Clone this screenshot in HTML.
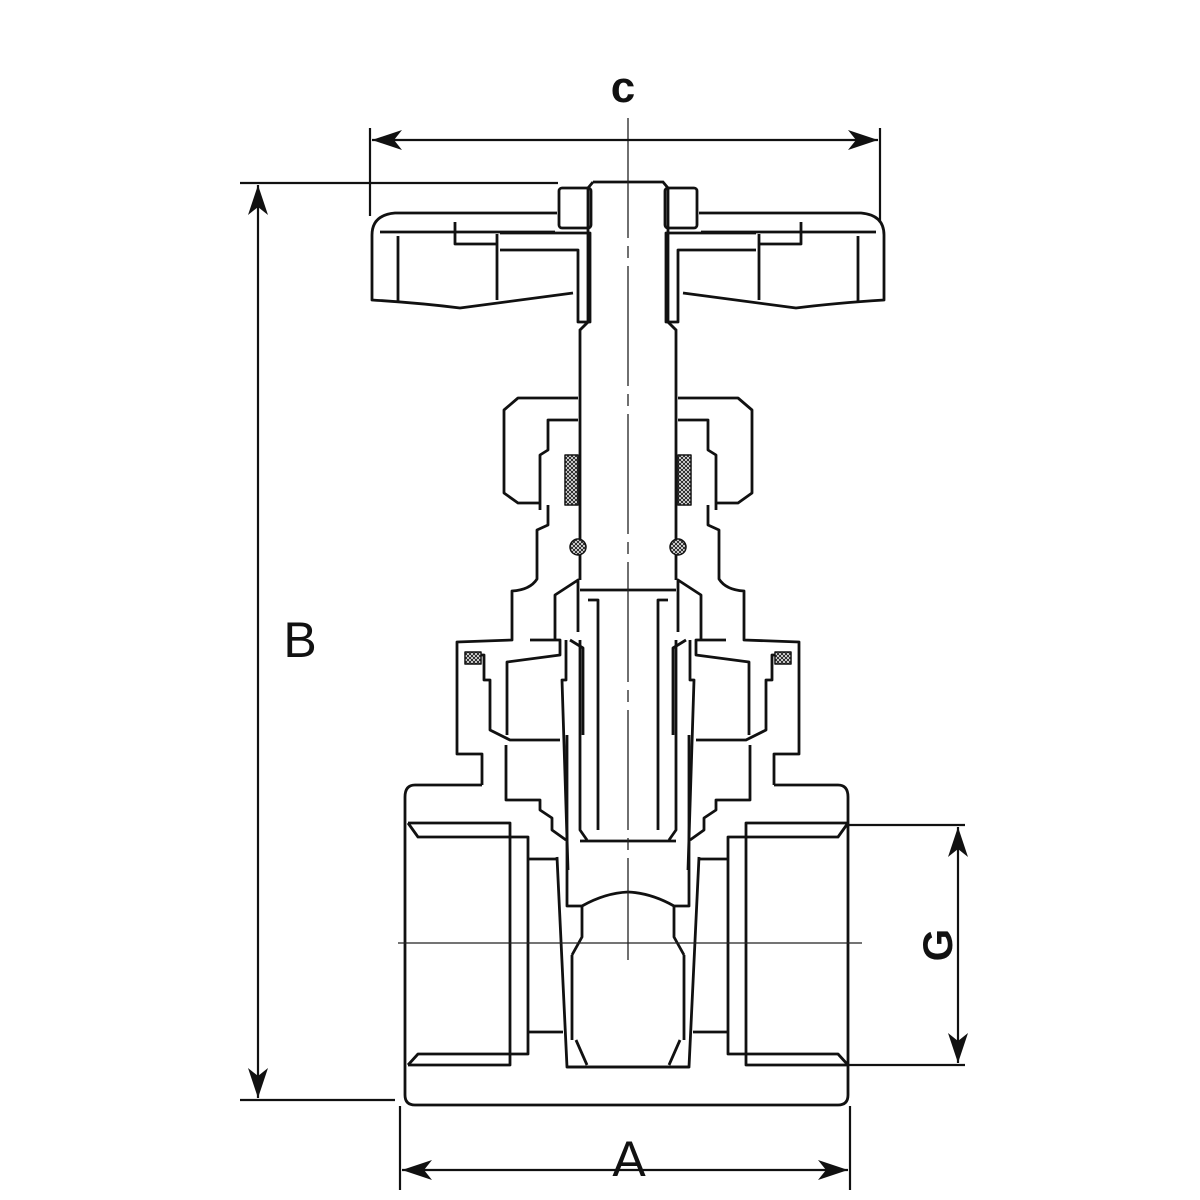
<!DOCTYPE html>
<html><head><style>html,body{margin:0;padding:0;background:#fff}svg{display:block}</style></head><body>
<svg width="1200" height="1200" viewBox="0 0 1200 1200" xmlns="http://www.w3.org/2000/svg">
<defs>
<marker id="ar" viewBox="0 0 30 20" refX="30" refY="10" markerWidth="30" markerHeight="20" markerUnits="userSpaceOnUse" orient="auto-start-reverse"><path d="M0,0 L30,10 L0,20 L8,10 z" fill="#111"/></marker>
<pattern id="hatch" width="4" height="4" patternUnits="userSpaceOnUse"><rect width="4" height="4" fill="#fff"/><path d="M0,0L4,4M4,0L0,4" stroke="#222" stroke-width="1"/></pattern>
<g id="half" fill="none" stroke="#111" stroke-width="2.8" stroke-linejoin="round">
  <path d="M557,213 L395,213 Q372,215 372,235 L372,300 Q420,303 460,308 Q520,300 573,293"/>
  <path d="M380,232 L555,232 M398,236 L398,302 M455,222 L455,244 L497,244 M497,234 L497,300"/>
  <path d="M500,233 L590,233 L590,322 L578,322 L578,250 L500,250"/>
  <rect x="559" y="188" width="32" height="40" rx="3"/>
  <path d="M578,398 L518,398 L504,410 L504,493 L518,503 L540,503"/>
  <path d="M578,420 L548,420 L548,450 L540,455 L540,510"/>
  <rect x="565" y="455" width="13" height="50" fill="url(#hatch)" stroke-width="1.5"/>
  <circle cx="578" cy="547" r="8" fill="url(#hatch)" stroke-width="1.5"/>
  <path d="M548,505 L548,525 L537,530 L537,579 Q530,590 512,591 L512,640 L457,642 L457,754 L482,754 L482,785"/>
  <path d="M466,655 L484,655 L484,680 L490,680 L490,730 L510,740 L560,740"/>
  <rect x="465" y="652" width="16" height="12" fill="url(#hatch)" stroke-width="1.5"/>
  <path d="M506,745 L506,800 L540,800 L540,810 L552,818 L552,830 L566,840"/>
  <path d="M507,735 L507,662 L560,655 L560,640 L530,640 M555,640 L555,595 L578,580 L578,632"/>
  <path d="M566,640 L566,680 L562,680 L568,870"/>
  <path d="M570,640 L583,648 L583,735"/>
  <path d="M408,823 L510,823 L510,1065 L408,1065"/>
  <path d="M408,823 L418,837 L528,837 L528,1054 L418,1054 L408,1065"/>
  <path d="M528,859 L557,859 M528,1032 L563,1032"/>
  <path d="M557,857 L567,1067 L628,1067"/>
  <path d="M567,735 L567,906 L582,906 Q605,893 628,892"/>
  <path d="M582,906 L582,937 L572,955 M576,1040 L587,1065 M572,955 L572,1040"/>
  <path d="M587,840 L580,830 L580,640 M580,841 L628,841"/>
  <path d="M588,600 L598,600 L598,830 M580,590 L628,590"/>
</g>
</defs>
<g fill="none" stroke="#111" stroke-width="2.8">
<path d="M593,182 L663,182 L668,188 L668,322 L676,330 L676,580 M593,182 L588,188 L588,322 L580,330 L580,580"/>
<path d="M482,785 L415,785 Q405,785 405,797 L405,1095 Q405,1105 415,1105 L838,1105 Q848,1105 848,1095 L848,797 Q848,785 838,785 L774,785"/>
<path d="M567,1067 L689,1067"/>
</g>
<use href="#half"/>
<use href="#half" transform="translate(1256,0) scale(-1,1)"/>
<g stroke="#222" stroke-width="1.3" fill="none">
<path d="M628,118 L628,960" stroke-dasharray="120,8,12,8"/>
<path d="M398,943 L862,943"/>
</g>
<g stroke="#111" stroke-width="2.2" fill="none">
<line x1="372" y1="140" x2="878" y2="140" marker-start="url(#ar)" marker-end="url(#ar)"/>
<line x1="370" y1="128" x2="370" y2="216"/>
<line x1="880" y1="128" x2="880" y2="222"/>
<line x1="258" y1="185" x2="258" y2="1098" marker-start="url(#ar)" marker-end="url(#ar)"/>
<line x1="240" y1="183" x2="558" y2="183"/>
<line x1="240" y1="1100" x2="395" y2="1100"/>
<line x1="402" y1="1170" x2="848" y2="1170" marker-start="url(#ar)" marker-end="url(#ar)"/>
<line x1="400" y1="1106" x2="400" y2="1190"/>
<line x1="850" y1="1106" x2="850" y2="1190"/>
<line x1="958" y1="827" x2="958" y2="1063" marker-start="url(#ar)" marker-end="url(#ar)"/>
<line x1="848" y1="825" x2="965" y2="825"/>
<line x1="848" y1="1065" x2="965" y2="1065"/>
</g>
<g font-family="Liberation Sans, sans-serif" fill="#111">
<text x="623" y="102" font-size="44" font-weight="bold" text-anchor="middle">c</text>
<text x="300" y="657" font-size="50" text-anchor="middle">B</text>
<text x="629" y="1176" font-size="50" text-anchor="middle">A</text>
<text transform="translate(952,945) rotate(-90)" font-size="42" font-weight="bold" text-anchor="middle">G</text>
</g>
</svg>
</body></html>
